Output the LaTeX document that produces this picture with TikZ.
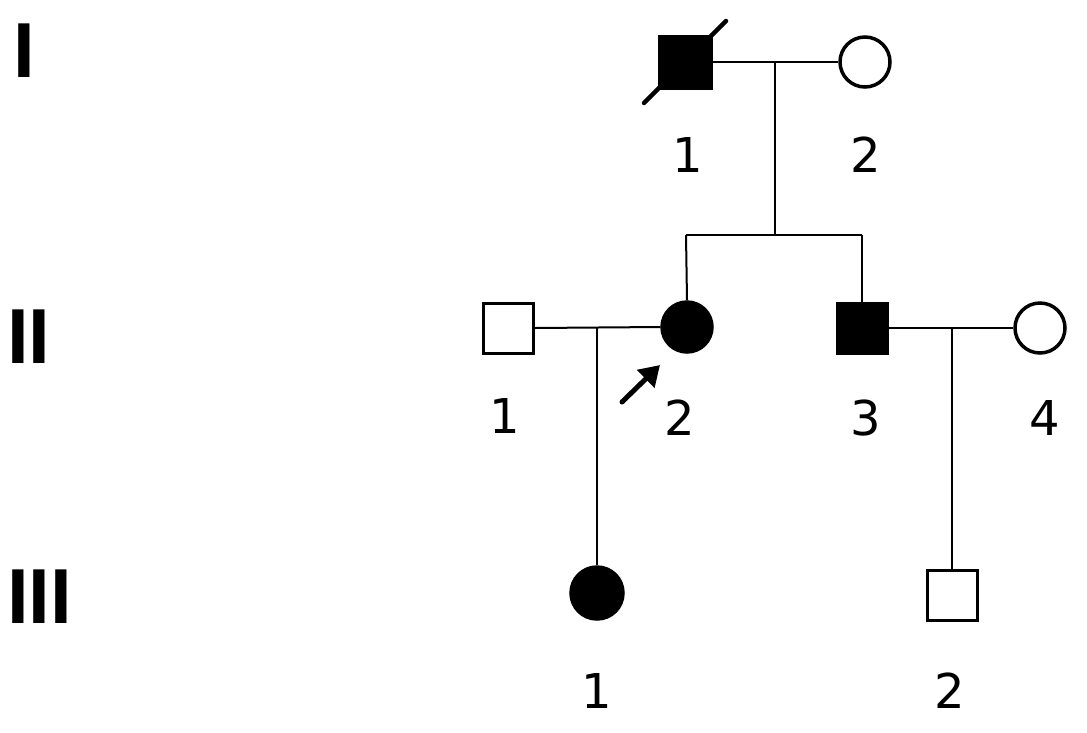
\documentclass[tikz,border=0pt]{standalone}
\usepackage{fontspec}
\setmainfont{DejaVu Sans}
\newfontfamily\genfont{Liberation Sans}
\usetikzlibrary{arrows.meta,calc}
\tikzset{
  male/.style={draw=black,line width=3pt,rectangle,minimum size=50pt,inner sep=0pt,fill=white},
  female/.style={draw=black,line width=3.5pt,circle,minimum size=50pt,inner sep=0pt,fill=white},
  affected/.style={fill=black},
  link/.style={draw=black,line width=2pt},
  lbl/.style={font=\fontsize{48}{48}\selectfont,anchor=base,inner sep=0pt},
  gen/.style={font=\genfont\bfseries\fontsize{78}{78}\selectfont,anchor=base west,inner sep=0pt},
  slash/.style={draw=black,line width=4.5pt,line cap=round},
  proband/.style={draw=black,line width=5pt,line cap=round,-{Triangle[length=20pt,width=24pt]}}
}
\begin{document}
\begin{tikzpicture}[x=1pt,y=-1pt]
\useasboundingbox (0,0) rectangle (1087,732);
% generation numerals
\node[gen] (gI) at (13,77) {I};
\node[gen] (gII) at (7,363) {II};
\node[gen] (gIII) at (7,623) {III};
% individuals
\node[male,affected,minimum size=52pt] (I1) at (685,62) {};
\node[female] (I2) at (865,62) {};
\node[male] (II1) at (508,328) {};
\node[female,affected] (II2) at (687,327) {};
\node[male,affected] (II3) at (862,328) {};
\node[female] (II4) at (1040,328) {};
\node[female,affected,minimum size=52pt] (III1) at (597,593) {};
\node[male] (III2) at (952,595) {};
% deceased slash
\draw[slash] ($(I1.center)+(-41,41)$) -- ($(I1.center)+(41,-41)$);
% connectors
\coordinate (m1mid) at (775,62);
\coordinate (s1) at (775,235);
\coordinate (s1l) at (686,235);
\coordinate (s1r) at (862,235);
\draw[link] (I1.east) -- (I2.west);
\draw[link] (m1mid) -- (s1);
\draw[link] (s1l) -- (s1r);
\draw[link] (s1l) -- (II2.north);
\draw[link] (s1r) -- (II3.north);
\draw[link] (II1.east) -- (II2.west);
\coordinate (m2) at (597,328);
\draw[link] (m2) -- (III1.north);
\draw[link] (II3.east) -- (II4.west);
\coordinate (m3) at (952,328);
\draw[link] (m3) -- (III2.north);
% proband arrow
\coordinate (ptail) at (622,402);
\coordinate (ptip) at (660,365);
\draw[proband] (ptail) -- (ptip);
% labels
\node[lbl] (lI1) at (688,172) {1};
\node[lbl] (lI2) at (866,172) {2};
\node[lbl] (lII1) at (505,433) {1};
\node[lbl] (lII2) at (680,435) {2};
\node[lbl] (lII3) at (866,435) {3};
\node[lbl] (lII4) at (1045,435) {4};
\node[lbl] (lIII1) at (597,708) {1};
\node[lbl] (lIII2) at (950,708) {2};
\end{tikzpicture}
\end{document}
